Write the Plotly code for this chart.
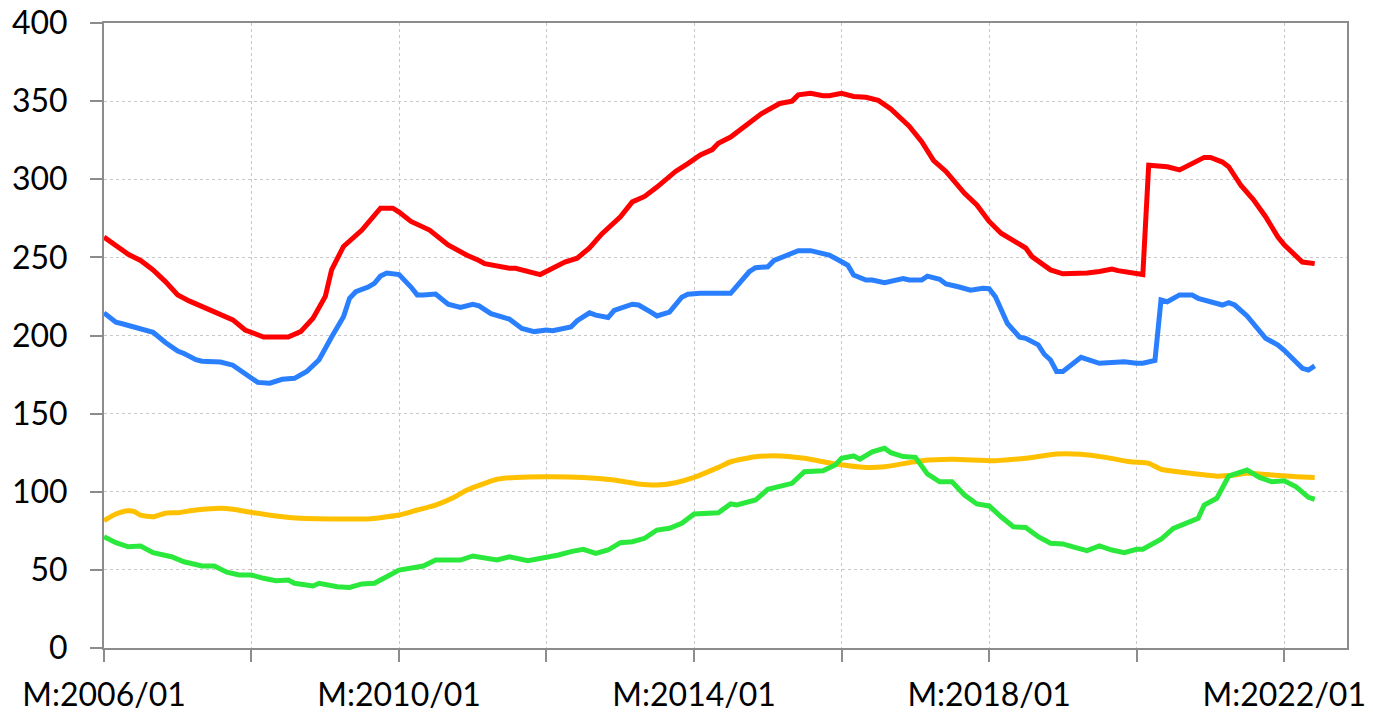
import plotly.graph_objects as go

# Monthly index series, 2006/01 - 2022/06
red_dates = ["2006-01", "2006-03", "2006-05", "2006-07", "2006-09", "2006-11", "2007-01", "2007-03",
             "2007-05", "2007-07", "2007-08", "2007-10", "2007-12", "2008-03", "2008-07", "2008-09",
             "2008-11", "2009-01", "2009-02", "2009-04", "2009-07", "2009-10", "2009-12", "2010-01",
             "2010-03", "2010-06", "2010-09", "2010-12", "2011-02", "2011-03", "2011-07", "2011-08",
             "2011-12", "2012-02", "2012-04", "2012-06", "2012-08", "2012-10", "2013-01", "2013-03",
             "2013-05", "2013-07", "2013-10", "2013-12", "2014-02", "2014-04", "2014-05", "2014-07",
             "2014-10", "2014-12", "2015-03", "2015-05", "2015-06", "2015-08", "2015-10", "2015-11",
             "2016-01", "2016-03", "2016-05", "2016-07", "2016-09", "2016-12", "2017-02", "2017-04",
             "2017-06", "2017-08", "2017-09", "2017-11", "2018-01", "2018-03", "2018-07", "2018-08",
             "2018-11", "2019-01", "2019-03", "2019-05", "2019-07", "2019-09", "2019-10", "2019-12",
             "2020-02", "2020-03", "2020-05", "2020-06", "2020-08", "2020-10", "2020-12", "2021-01",
             "2021-03", "2021-04", "2021-06", "2021-08", "2021-10", "2021-12", "2022-01", "2022-04",
             "2022-06"]
red_values = [263, 258, 252, 248, 242, 234.5, 226, 222,
              218.5, 215, 213, 210, 203.5, 199, 199, 202.5,
              211, 225, 242, 257, 267.5, 281.5, 281.5, 279,
              273, 267.5, 258, 251.5, 248, 246, 243, 243,
              239, 243, 247, 249.5, 256, 265, 276, 285.5,
              289, 295, 305, 310, 315.5, 319, 323, 327,
              336, 342, 348.5, 350, 354, 355, 353.5, 353.5,
              355, 353, 352.5, 350.5, 345, 334, 324, 312,
              305, 296, 291, 283.5, 273, 265.5, 256, 250.5,
              242, 239.5, 239.5, 240, 241, 242.5, 241.5, 240,
              239, 309, 308, 308, 306, 310, 314, 314,
              311, 308, 296, 287, 276, 263, 258, 247,
              246]

blue_dates = ["2006-01", "2006-03", "2006-04", "2006-06", "2006-09", "2006-11", "2007-01", "2007-02",
              "2007-04", "2007-05", "2007-08", "2007-10", "2007-12", "2008-02", "2008-04", "2008-06",
              "2008-08", "2008-10", "2008-12", "2009-01", "2009-02", "2009-04", "2009-05", "2009-06",
              "2009-08", "2009-09", "2009-10", "2009-11", "2010-01", "2010-03", "2010-04", "2010-05",
              "2010-07", "2010-09", "2010-11", "2011-01", "2011-02", "2011-04", "2011-07", "2011-09",
              "2011-11", "2012-01", "2012-02", "2012-05", "2012-06", "2012-08", "2012-09", "2012-11",
              "2012-12", "2013-03", "2013-04", "2013-06", "2013-07", "2013-09", "2013-11", "2013-12",
              "2014-02", "2014-07", "2014-08", "2014-10", "2014-11", "2015-01", "2015-02", "2015-04",
              "2015-06", "2015-08", "2015-11", "2015-12", "2016-02", "2016-03", "2016-05", "2016-06",
              "2016-08", "2016-11", "2016-12", "2017-02", "2017-03", "2017-05", "2017-06", "2017-08",
              "2017-10", "2017-12", "2018-01", "2018-02", "2018-04", "2018-06", "2018-07", "2018-09",
              "2018-10", "2018-11", "2018-12", "2019-01", "2019-03", "2019-04", "2019-07", "2019-09",
              "2019-10", "2019-11", "2020-01", "2020-02", "2020-04", "2020-05", "2020-06", "2020-08",
              "2020-10", "2020-11", "2021-03", "2021-04", "2021-05", "2021-07", "2021-10", "2021-12",
              "2022-01", "2022-03", "2022-04", "2022-05", "2022-06"]
blue_values = [214.5, 208.5, 207.5, 205, 202, 195.5, 190, 188.5,
               184.5, 183.5, 183, 181, 176, 170, 169.5, 172,
               172.6, 177, 184.5, 192, 199, 212, 223.8, 228,
               231, 233.4, 238, 240, 239, 231, 226, 226,
               226.5, 220, 218, 220, 219, 214, 210.5, 204.5,
               202.5, 203.5, 203, 205.5, 209.5, 214.5, 213, 211.5,
               216, 220, 219.5, 215, 212.5, 215, 224.5, 226.4,
               227, 227, 232, 240.8, 243.4, 244, 248, 251.5,
               254.3, 254.3, 251.5, 249.4, 245, 238.7, 235.5, 235.5,
               233.8, 236.5, 235.5, 235.5, 238, 236, 233, 231.2,
               229, 230.2, 230, 224.8, 207.8, 198.9, 198.2, 194,
               188, 184.3, 177, 177, 183.5, 186, 182.2, 182.5,
               183.2, 183.2, 182.2, 182.2, 184, 222.7, 221.6, 226,
               226, 223.8, 219.5, 221, 219.5, 212.5, 198.2, 193.9,
               190.5, 183, 179, 177.9, 180.5]

yellow_dates = ["2006-01", "2006-03", "2006-05", "2006-06", "2006-07", "2006-09", "2006-11", "2007-01",
                "2007-04", "2007-08", "2007-10", "2008-01", "2008-05", "2008-09", "2009-02", "2009-08",
                "2009-10", "2010-01", "2010-04", "2010-07", "2010-10", "2010-12", "2011-03", "2011-05",
                "2011-08", "2012-01", "2012-07", "2012-12", "2013-04", "2013-07", "2013-10", "2014-01",
                "2014-05", "2014-07", "2014-11", "2015-03", "2015-07", "2015-12", "2016-05", "2016-08",
                "2016-12", "2017-02", "2017-07", "2018-02", "2018-07", "2018-12", "2019-04", "2019-08",
                "2019-12", "2020-03", "2020-05", "2020-09", "2021-02", "2021-05", "2021-07", "2021-11",
                "2022-03", "2022-06"]
yellow_values = [81.5, 85.8, 87.9, 87.3, 85, 84, 86.3, 86.6,
                 88.3, 89.4, 88.8, 86.8, 84.5, 83, 82.6, 82.6,
                 83.4, 85.1, 88.3, 91.5, 96.5, 101, 105.4, 108,
                 109.2, 109.6, 109.2, 107.5, 105, 104.3, 105.8, 109.2,
                 115.6, 119.2, 122.4, 122.9, 121.4, 117.8, 115.6, 116,
                 118.6, 119.9, 120.8, 119.9, 121.4, 124.2, 124, 122,
                 119.2, 118.2, 114.4, 112.2, 110, 110.7, 111.8, 110.7,
                 109.6, 109.2]

green_dates = ["2006-01", "2006-03", "2006-05", "2006-07", "2006-09", "2006-11", "2006-12", "2007-02",
               "2007-05", "2007-07", "2007-09", "2007-11", "2008-01", "2008-03", "2008-05", "2008-07",
               "2008-08", "2008-11", "2008-12", "2009-03", "2009-05", "2009-07", "2009-09", "2009-10",
               "2010-01", "2010-05", "2010-07", "2010-11", "2011-01", "2011-05", "2011-07", "2011-10",
               "2012-01", "2012-03", "2012-05", "2012-07", "2012-09", "2012-11", "2013-01", "2013-03",
               "2013-05", "2013-07", "2013-09", "2013-11", "2014-01", "2014-05", "2014-07", "2014-08",
               "2014-11", "2015-01", "2015-05", "2015-07", "2015-10", "2015-12", "2016-01", "2016-03",
               "2016-04", "2016-06", "2016-08", "2016-09", "2016-11", "2017-01", "2017-03", "2017-05",
               "2017-07", "2017-09", "2017-11", "2018-01", "2018-03", "2018-05", "2018-07", "2018-09",
               "2018-11", "2019-01", "2019-03", "2019-05", "2019-07", "2019-09", "2019-11", "2020-01",
               "2020-02", "2020-05", "2020-07", "2020-09", "2020-11", "2020-12", "2021-02", "2021-04",
               "2021-07", "2021-09", "2021-11", "2022-01", "2022-03", "2022-05", "2022-06"]
green_values = [71.2, 67.4, 64.8, 65.3, 61, 58.9, 58.4, 55.2,
                52.5, 52.5, 48.5, 46.7, 46.7, 44.6, 43.1, 43.5,
                41.4, 39.7, 41.4, 39.2, 38.8, 41, 41.4, 43.5,
                49.9, 52.5, 56.3, 56.3, 58.9, 56.3, 58.4, 55.9,
                58, 59.5, 61.7, 63.2, 60.6, 62.7, 67.4, 68,
                70.2, 75.5, 76.6, 79.8, 85.8, 86.6, 92.2, 91.5,
                94.7, 101.6, 105.4, 112.8, 113.5, 117.1, 121.4, 122.9,
                120.8, 125.6, 127.8, 125, 122.5, 122, 111.4, 106.4,
                106.4, 97.9, 92.2, 90.9, 84, 77.6, 77.2, 71.2,
                67, 66.6, 64.4, 62.3, 65.3, 62.7, 61, 63.2,
                63.2, 69.6, 76.6, 79.8, 83, 91.5, 95.8, 110,
                113.9, 109.2, 106.4, 107, 103.2, 96.4, 95.2]

x_tick_dates = ["2006-01-01", "2008-01-01", "2010-01-01", "2012-01-01", "2014-01-01",
                "2016-01-01", "2018-01-01", "2020-01-01", "2022-01-01"]
x_tick_text = ["M:2006/01", "", "M:2010/01", "", "M:2014/01", "", "M:2018/01", "", "M:2022/01"]
y_ticks = [0, 50, 100, 150, 200, 250, 300, 350, 400]

series = [
    (yellow_dates, yellow_values, "#FFC000", "spline"),
    (green_dates, green_values, "#2BE83C", "linear"),
    (blue_dates, blue_values, "#2A7FFF", "linear"),
    (red_dates, red_values, "#FF0000", "linear"),
]

fig = go.Figure()
for dates, values, color, shape in series:
    fig.add_trace(go.Scatter(
        x=dates, y=values, mode="lines",
        line=dict(color=color, width=5, shape=shape, smoothing=0.6),
        showlegend=False, hoverinfo="skip",
    ))

axis_line = "#8C8C8C"
grid_col = "#C8C8C8"
fig.update_layout(
    width=1373, height=713,
    margin=dict(l=104, r=26, t=23, b=65),
    paper_bgcolor="white", plot_bgcolor="white",
    font=dict(family="Lato", size=32, color="black"),
    xaxis=dict(
        type="date", range=["2006-01-01", "2022-11-08"], automargin=False,
        tickmode="array", tickvals=x_tick_dates, ticktext=x_tick_text,
        ticks="outside", ticklen=12, tickwidth=2, tickcolor=axis_line,
        showgrid=True, gridcolor=grid_col, gridwidth=1, griddash="dot",
        showline=True, linecolor=axis_line, linewidth=2, mirror=True,
        zeroline=False, ticklabelstandoff=6,
    ),
    yaxis=dict(
        range=[0, 400], tickmode="array", tickvals=y_ticks, automargin=False,
        ticks="outside", ticklen=12, tickwidth=2, tickcolor=axis_line,
        showgrid=True, gridcolor=grid_col, gridwidth=1, griddash="dot",
        showline=True, linecolor=axis_line, linewidth=2, mirror=True,
        zeroline=False, ticklabelstandoff=16,
    ),
)

fig.write_html("out.html")
